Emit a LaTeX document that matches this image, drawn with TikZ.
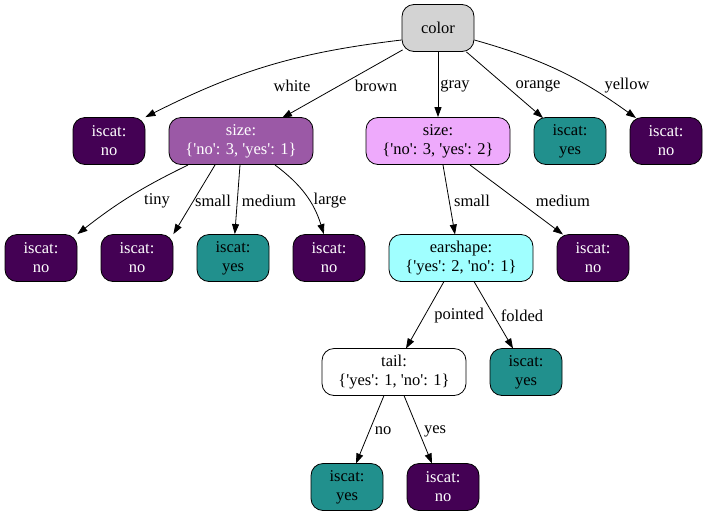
\documentclass[tikz,border=0pt]{standalone}
\usepackage{fontspec}
\setmainfont{Liberation Serif}
\usetikzlibrary{arrows.meta}
\definecolor{catno}{HTML}{440154}
\definecolor{catyes}{HTML}{21908D}
\definecolor{brownsz}{HTML}{9B59A6}
\definecolor{graysz}{HTML}{EEAAFC}
\definecolor{earcol}{HTML}{A0FFFF}
\definecolor{rootcol}{HTML}{D3D3D3}
\newcommand{\q}{\textquotesingle}
\begin{document}
\begin{tikzpicture}[x=1pt,y=1pt]
\tikzset{
  every node/.style={font=\fontsize{16.5}{19}\selectfont, align=center},
  box/.style={draw, line width=0.8pt, rounded corners=12pt, minimum height=47pt, minimum width=72pt, inner sep=2pt},
  widebox/.style={box, minimum width=144pt},
  leafno/.style={box, fill=catno, text=white},
  leafyes/.style={box, fill=catyes},
  edge/.style={draw, line width=0.8pt, -{Triangle[length=10pt,width=7pt]}},
  elabel/.style={inner sep=0pt}
}
\useasboundingbox (0,0) rectangle (708,-517);

\node[box, fill=rootcol] (color) at (438,-28) {color};
\node[leafno] (white) at (109,-141) {iscat:\\no};
\node[widebox, fill=brownsz, text=white] (brown) at (241,-141) {size:\\\{\q no\q: 3, \q yes\q: 1\}};
\node[widebox, fill=graysz] (gray) at (438,-141) {size:\\\{\q no\q: 3, \q yes\q: 2\}};
\node[leafyes] (orange) at (570,-141) {iscat:\\yes};
\node[leafno] (yellow) at (666,-141) {iscat:\\no};

\node[leafno] (tiny) at (41,-258) {iscat:\\no};
\node[leafno] (bsmall) at (137,-258) {iscat:\\no};
\node[leafyes] (bmedium) at (233,-258) {iscat:\\yes};
\node[leafno] (large) at (329,-258) {iscat:\\no};
\node[widebox, fill=earcol] (ear) at (461,-258) {earshape:\\\{\q yes\q: 2, \q no\q: 1\}};
\node[leafno] (gmedium) at (593,-258) {iscat:\\no};

\node[widebox, fill=white] (tail) at (394,-372) {tail:\\\{\q yes\q: 1, \q no\q: 1\}};
\node[leafyes] (folded) at (526,-372) {iscat:\\yes};

\node[leafyes] (tailno) at (347,-487) {iscat:\\yes};
\node[leafno] (tailyes) at (443,-487) {iscat:\\no};

% edges
\draw[edge] (color.west) ++(0,-12) coordinate (c1) (c1) to[bend right=10] (white.north east);
\draw[edge] (color.south west) ++(1,2) coordinate (c2) (c2) -- (282,-118) coordinate (b1);
\draw[edge] (color) -- (gray);
\draw[edge] (color.south east) ++(-8,0) coordinate (c3) (c3) -- (543,-118) coordinate (o1);
\draw[edge] (color.east) ++(0,-12) coordinate (c4) (c4) to[bend left=10] (636,-118) coordinate (y1);

\draw[edge] (188,-165) coordinate (b2) to[bend right=6] (tiny.north east);
\draw[edge] (215,-165) coordinate (b3) -- (bsmall.north east);
\draw[edge] (240,-165) coordinate (b4) -- (bmedium);
\draw[edge] (275,-165) coordinate (b5) to[bend left=18] (large);

\draw[edge] (443,-165) coordinate (g1) -- (455,-234.5) coordinate (e1);
\draw[edge] (470,-165) coordinate (g2) -- (563,-234.5) coordinate (m1);

\draw[edge] (444,-281.5) coordinate (e2) -- (406,-348.5) coordinate (t1);
\draw[edge] (474,-281.5) coordinate (e3) -- (513,-348.5) coordinate (f1);

\draw[edge] (384,-395.5) coordinate (t2) -- (356,-463.5) coordinate (n1);
\draw[edge] (404,-395.5) coordinate (t3) -- (432,-463.5) coordinate (n2);

% edge labels
\node[elabel] (lwhite) at (292,-86) {white};
\node[elabel] (lbrown) at (376,-86) {brown};
\node[elabel] (lgray) at (455,-86) {gray};
\node[elabel] (lorange) at (538,-86) {orange};
\node[elabel] (lyellow) at (627,-86) {yellow};
\node[elabel] (ltiny) at (157,-201) {tiny};
\node[elabel] (lbsmall) at (213,-201) {small};
\node[elabel] (lbmedium) at (269,-201) {medium};
\node[elabel] (llarge) at (330,-201) {large};
\node[elabel] (lgsmall) at (472,-201) {small};
\node[elabel] (lgmedium) at (563,-201) {medium};
\node[elabel] (lpointed) at (459,-316) {pointed};
\node[elabel] (lfolded) at (522,-316) {folded};
\node[elabel] (lno) at (383,-431) {no};
\node[elabel] (lyes) at (435,-431) {yes};

\end{tikzpicture}
\end{document}
